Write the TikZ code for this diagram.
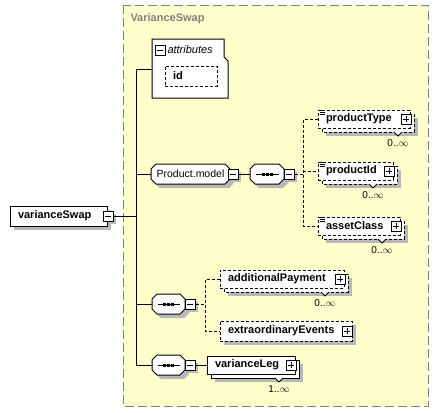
\documentclass[tikz,border=0pt]{standalone}
\usepackage{fontspec}
\setmainfont{Liberation Sans}
\definecolor{panel}{RGB}{255,255,204}
\definecolor{rim}{RGB}{128,128,128}
\definecolor{shadowgray}{RGB}{184,184,184}
\newcommand\octo[4]{(#1+5,#2) -- (#3-5,#2) -- (#3,#2+5) -- (#3,#4-5) -- (#3-5,#4) -- (#1+5,#4) -- (#1,#4-5) -- (#1,#2+5) -- cycle}
\begin{document}
\begin{tikzpicture}[x=1pt, y=-1pt, line width=1pt,
    txt/.style={font=\fontsize{11}{13}\selectfont\bfseries},
    opt/.style={dash pattern=on 3pt off 2pt},
    elem/.style={draw, fill=white, inner sep=0pt, txt, align=left},
    one/.style={elem, minimum height=20pt},
    many/.style={elem, minimum height=18pt},
    slot/.style={minimum height=20pt, inner sep=0pt},
    sq/.style={draw, fill=white, minimum size=10pt, inner sep=0pt},
    minus/.style={sq, path picture={
      \draw ([xshift=2pt]path picture bounding box.west) -- ([xshift=-2pt]path picture bounding box.east);}},
    plus/.style={sq, path picture={
      \draw ([xshift=2pt]path picture bounding box.west) -- ([xshift=-2pt]path picture bounding box.east);
      \draw ([yshift=2pt]path picture bounding box.south) -- ([yshift=-2pt]path picture bounding box.north);}},
    occ/.style={font=\fontsize{10}{12}\selectfont}
  ]
\useasboundingbox (0,0) rectangle (440,413);

\fill[panel] (123,5) rectangle (428,406);
\draw[draw=rim, dash pattern=on 9pt off 4pt] (123,5) rectangle (428,406);

\foreach \xa/\ya/\xb/\yb in {14/210/111/230, 326/118/418/136, 326/170/401/188, 326/225/408/243,
    169/70/221/90, 224/325/356/345, 228/278/352/296, 215/364/303/382,
    106/214/116/224, 231/172/241/182, 287/172/297/182, 188/302/198/312, 188/363/198/373}
  \fill[shadowgray] (\xa,\ya) rectangle (\xb,\yb);
\foreach \xa/\ya/\xb/\yb in {155/168/234/188, 254/168/288/188, 156/298/189/318, 156/359/189/379}
  \fill[shadowgray] \octo{\xa}{\ya}{\xb}{\yb};
\foreach \xa/\ya/\xb/\yb in {322/114/414/132, 322/166/397/184, 322/221/404/239, 224/274/348/292}
  \draw[opt, fill=white] (\xa,\ya) rectangle (\xb,\yb);
\draw[fill=white] (211,360) rectangle (299,378);

\node[txt, text=rim, anchor=west, inner sep=0pt] (title) at (130,19) {VarianceSwap};

\draw[fill=white] (152,39) -- (224,39) -- (224,57) -- (228,61) -- (228,98) -- (152,98) -- cycle;
\node[minus] (attrm) at (160,50) {};
\node[anchor=west, inner sep=0pt, font=\fontsize{11}{13}\selectfont\itshape] (attrs) at (167,50) {attributes};
\node[one, opt, minimum width=52pt, text width=36pt] (id) at (191,76) {id};
\coordinate (attrin) at (152,69);

\coordinate (top) at (136,69);
\coordinate (bot) at (136,365);

\node[one, minimum width=97pt, text width=81pt] (vs) at (58.5,216) {varianceSwap};
\node[minus] (vsm) at (108,216) {};

\foreach \xa/\ya/\xb/\yb in {151/164/230/184, 250/164/284/184, 152/294/185/314, 152/355/185/375}
  \draw[fill=white] \octo{\xa}{\ya}{\xb}{\yb};
\node[slot, minimum width=79pt, font=\fontsize{10.5}{12}\selectfont] (pm) at (190.5,174) {Product.model};
\node[slot, minimum width=34pt] (seqa) at (267,174) {};
\node[slot, minimum width=33pt] (seqb) at (168.5,304) {};
\node[slot, minimum width=33pt] (seqc) at (168.5,365) {};
\foreach \n in {seqa,seqb,seqc} {
  \draw ([xshift=6pt]\n.west) -- ([xshift=-6pt]\n.east);
  \foreach \dx in {-4,0,4}
    \fill ([xshift=\dx pt]\n.center) +(-1.5,-1.5) rectangle +(1.5,1.5);
}

\node[minus] (pmm) at (233,174) {};
\node[minus] (seqam) at (289,174) {};
\coordinate (cha) at (303,174);

\node[many, opt, minimum width=92pt, text width=76pt] (ptype) at (364,119) {productType};
\node[many, opt, minimum width=75pt, text width=59pt] (pid) at (355.5,171) {productId};
\node[many, opt, minimum width=82pt, text width=66pt] (acls) at (359,226) {assetClass};

\node[minus] (seqbm) at (190,304) {};
\coordinate (chb) at (205,304);
\node[many, opt, minimum width=124pt, text width=108pt] (addpay) at (282,279) {additionalPayment};
\node[one, opt, minimum width=132pt, text width=116pt] (extra) at (286,331) {extraordinaryEvents};

\node[minus] (seqcm) at (190,365) {};
\node[many, minimum width=88pt, text width=72pt] (vleg) at (251,365) {varianceLeg};

\draw (top) -- (bot);
\draw (attrin) -- (top);
\draw (vsm.east) -- (vsm.east -| top);
\draw (top |- pm.west) -- (pm.west);
\draw (pmm.east) -- (seqa.west);
\draw[opt] (seqam.east) -- (cha);
\draw[opt] (ptype.west) -| (cha) |- (acls.west);
\draw[opt] (cha |- pid.west) -- (pid.west);
\draw (top |- seqb.west) -- (seqb.west);
\draw[opt] (seqbm.east) -- (chb);
\draw[opt] (addpay.west) -| (chb) |- (extra.west);
\draw (bot) -- (seqc.west);
\draw (seqcm.east) -- (vleg.west);

\foreach \n in {ptype,pid,acls}
  \foreach \dy in {1,3,5}
    \draw[line width=0.8pt] ([xshift=2pt,yshift=-\dy pt]\n.north west) -- ++(5,0);

\node[plus] (ptypep) at (406,119) {};
\node[plus] (pidp) at (389,171) {};
\node[plus] (aclsp) at (396,226) {};
\node[plus] (addpayp) at (340,279) {};
\node[plus] (extrap) at (347,331) {};
\node[plus] (vlegp) at (291,365) {};

\foreach \x/\y in {398/132, 373/184, 382/239, 325/292, 279/378}
  \draw[fill=white, line width=0.8pt] (\x-4,\y) -- (\x,\y+4) -- (\x+4,\y);

\node[occ] (ptypeo) at (398,143) {0..$\infty$};
\node[occ] (pido) at (373,195) {0..$\infty$};
\node[occ] (aclso) at (382,250) {0..$\infty$};
\node[occ] (addpayo) at (325,303) {0..$\infty$};
\node[occ] (vlego) at (279,389) {1..$\infty$};
\end{tikzpicture}
\end{document}
